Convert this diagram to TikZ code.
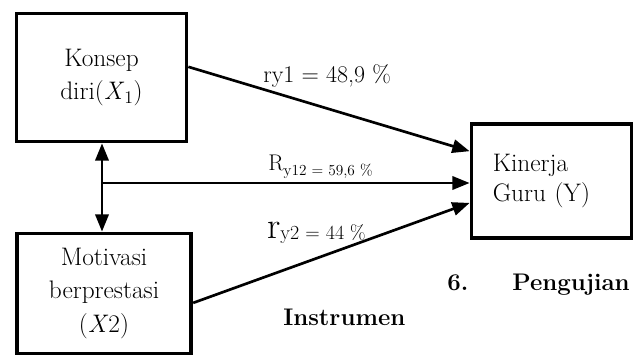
\documentclass[tikz,border=0pt]{standalone}
\usepackage{tikz}
\usetikzlibrary{arrows.meta, positioning, calc}
\tikzset{
  block/.style={rectangle, draw=black, line width=2.8pt, fill=white,
                font=\fontsize{19}{25}\selectfont, align=center, inner sep=2pt},
  arr/.style={-{Triangle[length=13pt,width=10pt]}, line width=2pt, black},
  lbl/.style={anchor=base west, inner sep=0pt, font=\fontsize{18}{20}\selectfont},
  head/.style={anchor=base west, inner sep=0pt, font=\fontsize{18}{22}\selectfont\bfseries},
}

\begin{document}
\begin{tikzpicture}[x=0.75pt, y=-0.75pt]
  \useasboundingbox (0,0) rectangle (644,357);
  %% Variables
  \node[block, minimum width=127.5pt, minimum height=96pt] (konsep) at (101.5,77.5)
    {Konsep\\diri(\textit{X}\textsubscript{1})};
  \node[block, minimum width=131pt, minimum height=90pt] (motiv) at (104,293.5)
    {Motivasi\\berprestasi\\(\textit{X}2)};
  \node[block, minimum width=120pt, minimum height=85pt, align=left,
        text width=88pt, inner xsep=16pt,
        font=\fontsize{19}{23}\selectfont] (kinerja) at (551.5,181)
    {Kinerja\\Guru (Y)};
  %% Connectors
  \coordinate (j) at (102,183);
  \draw[arr, {Triangle[length=13pt,width=10pt]}-{Triangle[length=13pt,width=10pt]}]
    (j |- konsep.south) -- (j |- motiv.north);
  \draw[arr] (konsep.7) -- (kinerja.160);
  \draw[arr] (j) -- (j -| kinerja.west);
  \draw[arr] (motiv.-6) -- (kinerja.195);
  %% Coefficients
  \node[lbl] (r1) at (263,82) {ry1 = 48,9 \%};
  \node[lbl] (r12) at (268,171)
    {{\fontsize{17}{18}\selectfont R}\raisebox{-3pt}{\fontsize{11.5}{12}\selectfont y12 = 59,6 \%}};
  \node[lbl] (r2) at (267,238)
    {{\fontsize{28}{30}\selectfont r}\raisebox{-1.5pt}{\fontsize{15}{16}\selectfont y2 = 44 \%}};
  %% Heading
  \node[head] (h1) at (447,290) {6.\hspace{33pt}Pengujian};
  \node[head] (h2) at (283,325) {Instrumen};
\end{tikzpicture}
\end{document}
